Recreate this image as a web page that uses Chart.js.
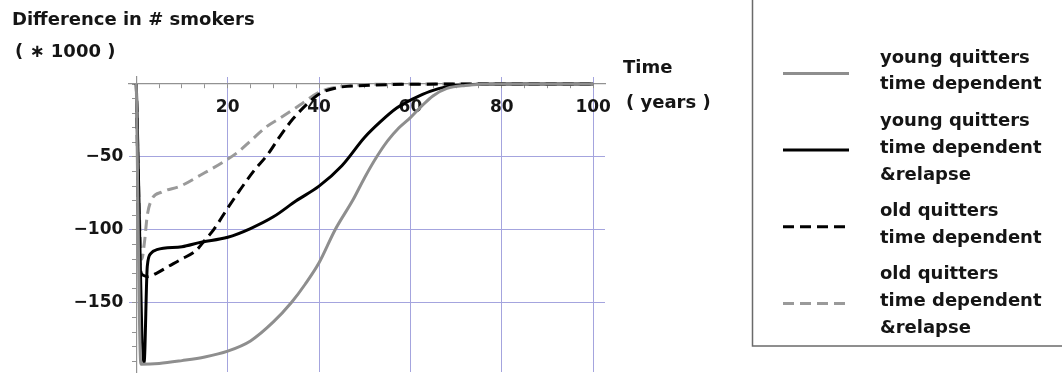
<!DOCTYPE html>
<html>
<head>
<meta charset="utf-8">
<script src="https://cdn.jsdelivr.net/npm/chart.js@4.4.1/dist/chart.umd.min.js"></script>
<style>
  html, body { margin: 0; padding: 0; background: #fff; }
  #wrap { position: relative; width: 1062px; height: 373px; }
</style>
</head>
<body>
<div id="wrap"><canvas id="c"></canvas></div>
<script>
// Series labels (multi-line legend entries)
const seriesNames = [
  ['young quitters', 'time dependent'],
  ['young quitters', 'time dependent', '&relapse'],
  ['old quitters', 'time dependent'],
  ['old quitters', 'time dependent', '&relapse']
];

// Time (years) and difference in # smokers (x1000) for each scenario
const tYoung = [0, 1.0, 5, 10, 15, 20, 25, 30, 34, 37, 40, 43.5, 47.5, 50, 52.6, 55, 57.5, 60, 62.5, 65, 68, 72, 80, 90, 100];
const vYoung = [0, -192, -191.5, -189.5, -187, -183, -176, -163, -149.5, -137, -122.5, -100, -79, -64, -50, -39, -30, -23, -15, -8, -3, -1, 0, 0, 0];

const tYoungRelapse = [0, 1.7, 2.4, 3.2, 4.5, 10, 14, 20, 25, 30, 35, 40, 45, 50, 53.4, 57, 60.7, 64.3, 68, 72, 80, 90, 100];
const vYoungRelapse = [0, -191, -125, -116, -113.5, -111.5, -108.5, -105, -99, -91, -80, -70, -56, -36.5, -26, -16.5, -10, -5, -1.8, -0.5, 0, 0, 0];

const tOld = [0, 0.8, 1.5, 2.5, 4.5, 7, 9.6, 13.2, 15, 16.9, 19.8, 22.7, 25.6, 28.7, 31.4, 33, 34.4, 37.3, 40.2, 44, 50, 60, 80, 100];
const vOld = [0, -125, -131, -132, -129.5, -125, -120.5, -113.7, -107, -100, -86, -72.6, -60, -48.5, -36, -29, -23.5, -14, -6.5, -2.5, -1, -0.2, 0, 0];

const tOldRelapse = [0, 0.6, 1.2, 1.8, 2.4, 3.4, 5.6, 9.6, 14, 19, 22.3, 25, 28.6, 31.4, 35.8, 40.2, 44.6, 50, 60, 80, 100];
const vOldRelapse = [0, -80, -120, -108, -90, -79, -74, -70, -62.5, -53.5, -46.5, -39, -29, -23.5, -14.4, -5.3, -1.8, -0.5, 0, 0, 0];

// Axis ticks: minor marks and labelled major values
const xTicks = [0, 5, 10, 15, 20, 25, 30, 35, 40, 45, 50, 55, 60, 65, 70, 75, 80, 85, 90, 95, 100];
const xLabels = [20, 40, 60, 80, 100];
const yTicks = [-190, -180, -170, -160, -150, -140, -130, -120, -110, -100, -90, -80, -70, -60, -50, -40, -30, -20, -10, 0];
const yLabels = [-50, -100, -150];

const toPoints = (ts, vs) => ts.map((t, i) => ({ x: t, y: vs[i] }));

const FONT = 'DejaVu Sans';
const gridColor = '#a4a4de';
const axisColor = '#929292';
const textColor = '#151515';
const Y_LABEL_GAP = 13;

const zeroPadding = s => { s.paddingLeft = 0; s.paddingRight = 0; s.paddingTop = 0; s.paddingBottom = 0; };

// A y axis pinned at x = 0 puts its labels flush against the axis line;
// move them left so they sit clear of the tick marks.
const yLabelGap = {
  id: 'yLabelGap',
  beforeDraw(chart) {
    const items = chart.scales.y.getLabelItems();
    items.forEach(it => {
      if (!it._gapApplied) {
        it.options.translation[0] -= Y_LABEL_GAP;
        it._gapApplied = true;
      }
    });
  }
};

// Titles, axis captions and the boxed legend
const annotations = {
  id: 'annotations',
  afterDraw(chart) {
    const ctx = chart.ctx;
    ctx.save();
    ctx.fillStyle = textColor;
    ctx.font = `bold 18px "${FONT}"`;
    ctx.textBaseline = 'middle';
    ctx.textAlign = 'left';
    ctx.fillText('Difference in # smokers', 12, 20);
    ctx.fillText('( \u2217 1000 )', 15, 52);
    ctx.fillText('Time', 623, 68);
    ctx.fillText('( years )', 626, 103);

    // legend frame
    ctx.strokeStyle = '#6a6a6a';
    ctx.lineWidth = 1.5;
    ctx.strokeRect(752.5, -5, 320, 351);

    const lineH = 26.8;
    const entryGap = 36.5;
    let y = 58;
    chart.data.datasets.forEach((ds) => {
      const lines = ds.label;
      const first = y;
      lines.forEach((ln, k) => {
        ctx.fillStyle = textColor;
        ctx.fillText(ln, 880, y + k * lineH);
      });
      const last = y + (lines.length - 1) * lineH;
      const sy = (first + last) / 2 + 2;
      ctx.beginPath();
      ctx.strokeStyle = ds.borderColor;
      ctx.lineWidth = ds.borderWidth;
      ctx.setLineDash(ds.borderDash || []);
      ctx.moveTo(783, sy);
      ctx.lineTo(849, sy);
      ctx.stroke();
      ctx.setLineDash([]);
      y = last + entryGap;
    });
    ctx.restore();
  }
};

new Chart(document.getElementById('c'), {
  type: 'line',
  data: {
    datasets: [
      { label: seriesNames[0], data: toPoints(tYoung, vYoung), borderColor: '#8e8e8e', borderWidth: 3 },
      { label: seriesNames[1], data: toPoints(tYoungRelapse, vYoungRelapse), borderColor: '#000000', borderWidth: 3 },
      { label: seriesNames[2], data: toPoints(tOld, vOld), borderColor: '#000000', borderWidth: 3, borderDash: [11, 6] },
      { label: seriesNames[3], data: toPoints(tOldRelapse, vOldRelapse), borderColor: '#9a9a9a', borderWidth: 3, borderDash: [11, 6] }
    ]
  },
  options: {
    responsive: true,
    maintainAspectRatio: false,
    animation: false,
    devicePixelRatio: 1,
    layout: { padding: { left: 129, right: 457, top: 77, bottom: 1 } },
    elements: {
      point: { radius: 0, hoverRadius: 0 },
      line: { cubicInterpolationMode: 'monotone', fill: false, borderCapStyle: 'butt', borderJoinStyle: 'round' }
    },
    plugins: { legend: { display: false }, tooltip: { enabled: false }, title: { display: false } },
    scales: {
      x: {
        type: 'linear',
        position: { y: 0 },
        min: -1.6,
        max: 102.6,
        afterBuildTicks: s => { s.ticks = xTicks.map(v => ({ value: v })); },
        afterFit: zeroPadding,
        ticks: {
          autoSkip: false, maxRotation: 0, minRotation: 0, padding: 9, color: textColor,
          font: { family: FONT, weight: 'bold', size: 17 },
          callback: v => xLabels.includes(v) ? String(v) : ''
        },
        grid: {
          color: c => (c.tick && xLabels.includes(c.tick.value)) ? gridColor : 'rgba(0,0,0,0)',
          lineWidth: 1, tickColor: axisColor, tickLength: 4, tickWidth: 1
        },
        border: { display: true, color: axisColor, width: 1.2 }
      },
      y: {
        type: 'linear',
        position: { x: 0 },
        min: -197.3,
        max: 4.8,
        afterBuildTicks: s => { s.ticks = yTicks.map(v => ({ value: v })); },
        afterFit: zeroPadding,
        ticks: {
          autoSkip: false, padding: 9, color: textColor,
          font: { family: FONT, weight: 'bold', size: 17 },
          callback: v => yLabels.includes(v) ? '\u2212' + Math.abs(v) : ''
        },
        grid: {
          color: c => (c.tick && yLabels.includes(c.tick.value)) ? gridColor : 'rgba(0,0,0,0)',
          lineWidth: 1, tickColor: axisColor, tickLength: 4, tickWidth: 1
        },
        border: { display: true, color: axisColor, width: 1.2 }
      }
    }
  },
  plugins: [yLabelGap, annotations]
});
</script>
</body>
</html>
